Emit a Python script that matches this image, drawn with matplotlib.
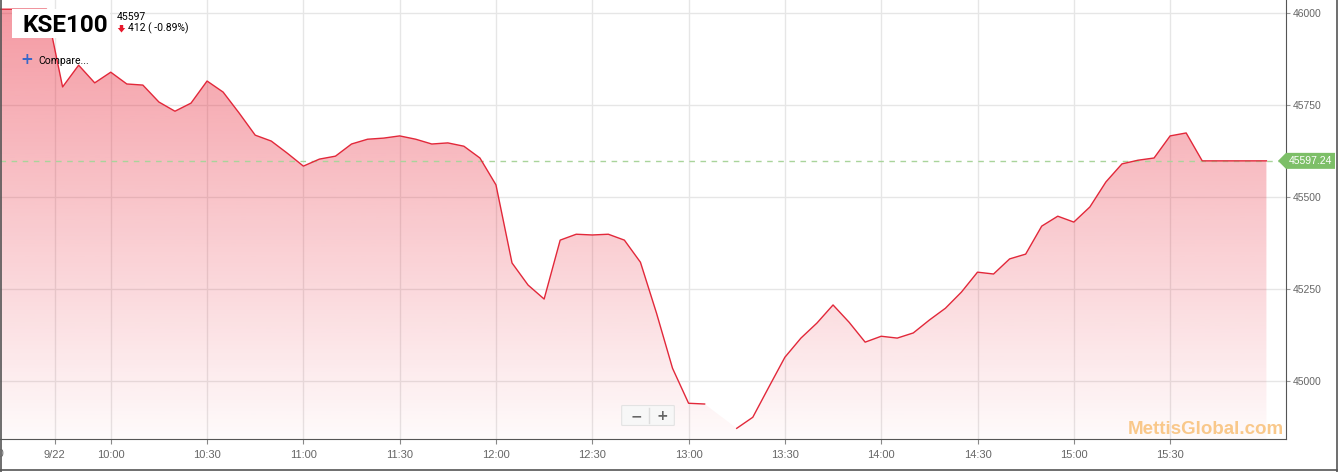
import matplotlib
matplotlib.use('Agg')
import matplotlib.pyplot as plt
import numpy as np
import pandas as pd
from matplotlib.patches import Polygon, Rectangle, FancyBboxPatch
from matplotlib.lines import Line2D
from matplotlib.transforms import IdentityTransform

# last points of the previous session (close 46009)
prev_day = [46009, 46009, 46009, 46009]
# 9/22 session, 5 minute points 09:45 .. 16:00 (13:10 missing)
times = pd.date_range('2017-09-22 09:45', '2017-09-22 16:00', freq='5min').strftime('%H:%M').tolist()
values = [45798, 45857, 45809,
          45838, 45806, 45803, 45757, 45732, 45754, 45814, 45784, 45727, 45667, 45651, 45618,
          45583, 45602, 45610, 45643, 45656, 45659, 45665, 45656, 45643, 45646, 45637, 45605,
          45532, 45320, 45260, 45222, 45382, 45398, 45396, 45398, 45382, 45322, 45184, 45034,
          44939, 44937, np.nan, 44871, 44901, 44983, 45064, 45116, 45157, 45206, 45159, 45105,
          45121, 45116, 45130, 45165, 45197, 45241, 45295, 45290, 45331, 45344, 45420, 45447,
          45431, 45472, 45540, 45589, 45599, 45605, 45665, 45673, 45597.24, 45597.24, 45597.24, 45597.24,
          45597.24]
last_price = 45597.24
x_labels = ['10:00', '10:30', '11:00', '11:30', '12:00', '12:30', '13:00',
            '13:30', '14:00', '14:30', '15:00', '15:30']
y_ticks = [45000, 45250, 45500, 45750, 46000]

W, H = 1340, 472
fig = plt.figure(figsize=(W / 100, H / 100), dpi=100)
ax = fig.add_axes([0, (H - 439) / H, 1286 / W, 439 / H])

x = np.arange(len(prev_day) + len(values))
y = np.array(prev_day + values, dtype=float)
n0 = len(prev_day)
xmin, xmax = 0.1, 80.22
ymin, ymax = 44842, 46034

# gradient area fill
alpha = np.linspace(0.46, 0.02, 256)
rgba = np.zeros((256, 1, 4))
rgba[..., 0] = 232 / 255
rgba[..., 1] = 30 / 255
rgba[..., 2] = 50 / 255
rgba[..., 3] = alpha[:, None]
im = ax.imshow(rgba, extent=[xmin, xmax, ymin, ymax], aspect='auto', origin='upper', zorder=1)
ok = ~np.isnan(y)
poly = ax.fill_between(x[ok], y[ok], ymin, color='none', lw=0)
im.set_clip_path(poly.get_paths()[0], transform=ax.transData)

ax.plot(x, y, color='#e2283a', lw=1, zorder=3)
ax.axhline(last_price, color='#a9d49b', ls=(0, (4, 4)), lw=1, zorder=2)

ax.set_xlim(xmin, xmax)
ax.set_ylim(ymin, ymax)

xt = [n0 - 0.5] + [n0 + times.index(t) for t in x_labels]
ax.set_xticks(xt)
ax.set_xticklabels(['9/22'] + x_labels)
ax.set_yticks(y_ticks)
ax.yaxis.tick_right()
ax.grid(True, color='#e6e6e6', lw=1)
ax.set_axisbelow(True)
for s in ['left', 'top']:
    ax.spines[s].set_visible(False)
for s in ['right', 'bottom']:
    ax.spines[s].set_color('#555555')
ax.tick_params(axis='x', direction='out', length=3.6, pad=4, color='#888888',
               labelsize=8, labelcolor='#666666')
ax.tick_params(axis='y', direction='out', length=3, pad=2, color='#999999',
               labelsize=7.5, labelcolor='#666666')
for lab in ax.get_xticklabels() + ax.get_yticklabels():
    lab.set_family('Liberation Sans')
# previous-day label, cut by the left edge as in the source
fig.text(4 / W, (H - 454) / H, '15:30', ha='right', va='center', fontsize=8,
         color='#666666', family='Liberation Sans')

# price flag on the right axis
yp = ax.transData.transform((0, last_price))[1]
flag = [(1278, yp), (1286, yp + 8), (1335, yp + 8), (1335, yp - 8), (1286, yp - 8)]
fig.add_artist(Polygon(flag, closed=True, fc='#7dbf68', ec='none', transform=IdentityTransform()))
fig.text(1310 / W, yp / H, '45597.24', ha='center', va='center', color='white',
         fontsize=7.5, family='Liberation Sans')

# header
fig.add_artist(Rectangle((12 / W, (H - 38) / H), 98 / W, 29 / H, transform=fig.transFigure,
                         fc='white', ec='none', zorder=5))
fig.text(22 / W, (H - 32) / H, 'KSE100', fontsize=17.5, weight='bold', family='Roboto',
         va='baseline', zorder=6)
fig.text(117 / W, (H - 19.5) / H, '45597', fontsize=7.5, family='Roboto', va='baseline', zorder=6)
arrow = [(119.8, 25), (123.2, 25), (123.2, 28), (125.2, 28), (121.5, 32.5), (117.8, 28), (119.8, 28)]
fig.add_artist(Polygon([(px, H - py) for px, py in arrow], closed=True, fc='#e8192c', ec='none',
                       transform=IdentityTransform(), zorder=6))
fig.text(128.5 / W, (H - 31.7) / H, '412 ( -0.89%)', fontsize=7.5, family='Roboto', va='baseline', zorder=6)
fig.text(27 / W, (H - 60) / H, '+', fontsize=11, weight='bold', color='#3a67c8', ha='center',
         va='center', family='DejaVu Sans', zorder=6)
fig.text(38.5 / W, (H - 64.5) / H, 'Compare...', fontsize=7.5, family='Roboto', va='baseline', zorder=6)

# zoom buttons
fig.add_artist(FancyBboxPatch((623 / W, (H - 425) / H), 50 / W, 19 / H, boxstyle='round,pad=0.001',
                              transform=fig.transFigure, fc='#f7f7f7', ec='#e3e3e3', lw=0.8, zorder=6))
fig.add_artist(Line2D([649 / W, 649 / W], [(H - 423) / H, (H - 408) / H], color='#dddddd', lw=1,
                      transform=fig.transFigure, zorder=7))
fig.text(636 / W, (H - 416) / H, '\u2212', fontsize=10, weight='bold', color='#666666', ha='center',
         va='center', family='DejaVu Sans', zorder=7)
fig.text(662 / W, (H - 416) / H, '+', fontsize=10, weight='bold', color='#666666', ha='center',
         va='center', family='DejaVu Sans', zorder=7)

# watermark
fig.text(1284 / W, (H - 434.5) / H, 'MettisGlobal.com', ha='right', va='baseline', fontsize=13.5,
         weight='bold', color='#f9c88a', family='Liberation Sans', zorder=6)

# outer frame
fig.add_artist(Line2D([0.5 / W, 0.5 / W], [0, 1], color='#555555', lw=1.2, transform=fig.transFigure))
fig.add_artist(Line2D([0, 1337 / W], [(H - 470) / H, (H - 470) / H], color='#555555', lw=1.2,
                      transform=fig.transFigure))
fig.add_artist(Line2D([1337 / W, 1337 / W], [0, 1], color='#555555', lw=1.2, transform=fig.transFigure))

fig.savefig('out.png', dpi=100)
